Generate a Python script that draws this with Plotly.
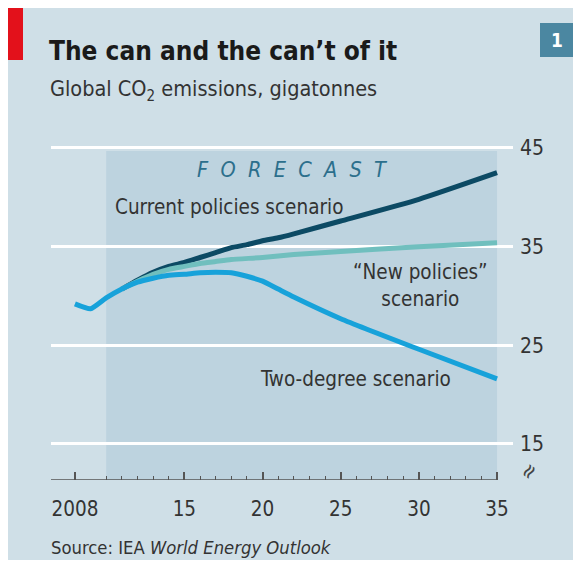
import plotly.graph_objects as go

# ---- data ----
years_two = [2008, 2009, 2010, 2011, 2012, 2013, 2014, 2015, 2016, 2017, 2018, 2019,
             2020, 2021, 2022, 2025, 2030, 2035]
two_degree = [29.2, 28.7, 29.8, 30.7, 31.4, 31.8, 32.1, 32.2, 32.35, 32.4, 32.35, 32.0,
              31.5, 30.7, 29.9, 27.7, 24.6, 21.6]

years_cur = [2011, 2012, 2013, 2014, 2015, 2016, 2017, 2018, 2019, 2020, 2021, 2022,
             2025, 2030, 2035]
current_policies = [30.7, 31.6, 32.4, 33.0, 33.4, 33.9, 34.4, 34.9, 35.2, 35.6, 35.9,
                    36.3, 37.6, 39.8, 42.5]

years_new = [2011, 2012, 2013, 2014, 2015, 2016, 2017, 2018, 2020, 2022, 2025, 2030, 2035]
new_policies = [30.7, 31.5, 32.2, 32.7, 33.0, 33.3, 33.5, 33.7, 33.9, 34.2, 34.5, 35.0, 35.4]

x_tickvals = [2008, 2015, 2020, 2025, 2030, 2035]
x_ticktext = ["2008", "15", "20", "25", "30", "35"]
y_tickvals = [15, 25, 35, 45]
forecast_start, forecast_end = 2010, 2035

# ---- styling ----
FONT = "DejaVu Sans Condensed, DejaVu Sans, sans-serif"
CARD = "#cfdfe7"
SHADE = "#bdd3df"
DARK = "#0c4a64"
TEAL = "#70bfbe"
LIGHT = "#17a2da"
TXT = "#333333"

OFF = 8                      # page body margin in the browser
W, H = 581 - OFF, 564 - OFF
L, R, T, B = 51 - OFF, 513 - OFF, 140 - OFF, 480 - OFF   # plot area in px
XMIN, XMAX = 2006.47, 2036.02
YMIN, YMAX = 11.35, 45.81


def px(xp):
    return (xp - OFF - L) / (R - L)


def py(yp):
    return (B - (yp - OFF)) / (B - T)


fig = go.Figure()
fig.add_trace(go.Scatter(x=years_cur, y=current_policies, mode="lines",
                         line=dict(color=DARK, width=5, shape="spline", smoothing=0.5),
                         hoverinfo="skip"))
fig.add_trace(go.Scatter(x=years_new, y=new_policies, mode="lines",
                         line=dict(color=TEAL, width=5, shape="spline", smoothing=0.5),
                         hoverinfo="skip"))
fig.add_trace(go.Scatter(x=years_two, y=two_degree, mode="lines",
                         line=dict(color=LIGHT, width=5, shape="spline", smoothing=0.5),
                         hoverinfo="skip"))

shapes = [
    # card background
    dict(type="rect", xref="paper", yref="paper", x0=px(8), x1=px(577), y0=py(560), y1=py(8),
         fillcolor=CARD, line=dict(width=0), layer="below"),
    # red tab
    dict(type="rect", xref="paper", yref="paper", x0=px(8), x1=px(23), y0=py(60), y1=py(8),
         fillcolor="#e3111b", line=dict(width=0), layer="below"),
    # number box
    dict(type="rect", xref="paper", yref="paper", x0=px(540), x1=px(574), y0=py(57), y1=py(23),
         fillcolor="#4b87a1", line=dict(width=0), layer="below"),
    # forecast shading
    dict(type="rect", xref="x", yref="y", x0=forecast_start, x1=forecast_end,
         y0=YMIN, y1=44.7, fillcolor=SHADE, line=dict(width=0), layer="below"),
    # x axis baseline
    dict(type="line", xref="x", yref="y", x0=XMIN, x1=forecast_end, y0=YMIN, y1=YMIN,
         line=dict(color="#555555", width=1.5), layer="above"),
]

SP = " \u00a0"
annotations = [
    dict(text="<b>The can and the can’t of it</b>", xref="paper", yref="paper",
         x=px(47), y=py(51), xanchor="left", yanchor="middle", showarrow=False,
         font=dict(family=FONT, size=26, color="#1a1a1a")),
    dict(text="Global CO<sub>2</sub> emissions, gigatonnes", xref="paper", yref="paper",
         x=px(48), y=py(90), xanchor="left", yanchor="middle", showarrow=False,
         font=dict(family=FONT, size=21.5, color=TXT)),
    dict(text="<b>1</b>", xref="paper", yref="paper", x=px(557), y=py(40),
         xanchor="center", yanchor="middle", showarrow=False,
         font=dict(family=FONT, size=19, color="white")),
    dict(text="<i>" + SP.join("FORECAST") + "</i>", xref="x", yref="y", x=2021.9, y=42.77,
         xanchor="center", yanchor="middle", showarrow=False,
         font=dict(family=FONT, size=21.5, color="#2c6f8c")),
    dict(text="Current policies scenario", xref="x", yref="y", x=2017.88, y=39.02,
         xanchor="center", yanchor="middle", showarrow=False,
         font=dict(family=FONT, size=20.5, color=TXT)),
    dict(text="“New policies”<br>scenario", xref="x", yref="y", x=2030.08, y=31.06,
         xanchor="center", yanchor="middle", showarrow=False,
         font=dict(family=FONT, size=20.5, color=TXT)),
    dict(text="Two-degree scenario", xref="x", yref="y", x=2025.93, y=21.59,
         xanchor="center", yanchor="middle", showarrow=False,
         font=dict(family=FONT, size=20.5, color=TXT)),
    dict(text="≈", xref="paper", yref="paper", x=px(528), y=py(471),
         xanchor="center", yanchor="middle", showarrow=False, textangle=-55,
         font=dict(family=FONT, size=22, color="#444444")),
    dict(text="Source: IEA <i>World Energy Outlook</i>", xref="paper", yref="paper",
         x=px(49), y=py(547), xanchor="left", yanchor="middle", showarrow=False,
         font=dict(family=FONT, size=18.3, color=TXT)),
]

minor_vals = [y for y in range(forecast_start, forecast_end + 1) if y not in x_tickvals]

fig.update_layout(
    width=W, height=H,
    margin=dict(l=L, r=W - R, t=T, b=H - B, pad=0),
    paper_bgcolor="white", plot_bgcolor="rgba(0,0,0,0)",
    showlegend=False,
    shapes=shapes, annotations=annotations,
    xaxis=dict(range=[XMIN, XMAX], showgrid=False, zeroline=False, showline=False,
               tickmode="array", tickvals=x_tickvals, ticktext=x_ticktext,
               ticks="inside", ticklen=8, tickwidth=1.5, tickcolor="#555555",
               minor=dict(tickmode="array", tickvals=minor_vals, ticks="inside",
                          ticklen=4, tickwidth=1, tickcolor="#555555"),
               ticklabelstandoff=14,
               tickfont=dict(family=FONT, size=20.5, color=TXT), fixedrange=True),
    yaxis=dict(range=[YMIN, YMAX], side="right", showgrid=True, gridcolor="white",
               gridwidth=2.5, zeroline=False, showline=False, ticks="",
               tickmode="array", tickvals=y_tickvals, ticklabelstandoff=6,
               tickfont=dict(family=FONT, size=21, color=TXT), fixedrange=True),
)

fig.write_html("out.html")
